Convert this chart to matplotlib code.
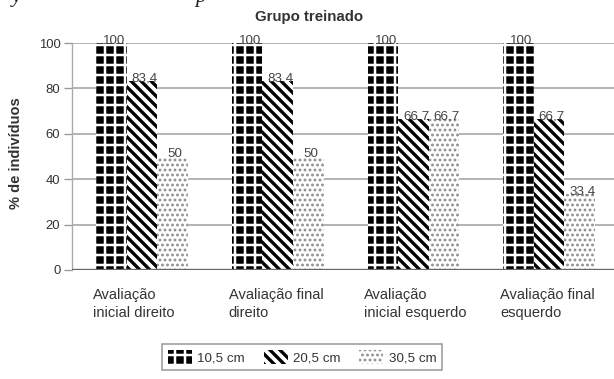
import matplotlib.pyplot as plt
import numpy as np

plt.rcParams['font.family'] = ['Liberation Sans', 'DejaVu Sans']

grupos = ['Avaliação\ninicial direito', 'Avaliação final\ndireito',
          'Avaliação\ninicial esquerdo', 'Avaliação final\nesquerdo']
distancias = ['10,5 cm', '20,5 cm', '30,5 cm']
v_10 = [100, 100, 100, 100]
v_20 = [83.4, 83.4, 66.7, 66.7]
v_30 = [50, 50, 66.7, 33.4]
yticks = [0, 20, 40, 60, 80, 100]

DPI = 120
fig = plt.figure(figsize=(614 / DPI, 379 / DPI), dpi=DPI)
ax = fig.add_axes([72 / 614, 1 - 270 / 379, 542 / 614, 227 / 379])

x = np.arange(len(grupos))
w = 0.225
cinza = '#333333'
barra_inv = chr(92)  # backslash

estilos = [
    dict(facecolor='black', edgecolor='white', hatch='++', hlw=1.5),
    dict(facecolor='white', edgecolor='black', hatch=barra_inv * 4, hlw=2.0),
    dict(facecolor='white', edgecolor='#8a8a8a', hatch='....', hlw=1.1),
]

for k, (vals, nome, st) in enumerate(zip([v_10, v_20, v_30], distancias, estilos)):
    bars = ax.bar(x + (k - 1) * w, vals, w, facecolor=st['facecolor'],
                  edgecolor=st['edgecolor'], hatch=st['hatch'], linewidth=0,
                  label=nome, zorder=3)
    for b in bars:
        if hasattr(b, 'set_hatch_linewidth'):
            b.set_hatch_linewidth(st['hlw'])
    for b, v in zip(bars, vals):
        txt = ('%g' % v).replace('.', ',')
        ax.text(b.get_x() + b.get_width() / 2 + 0.02, v + 1.0, txt,
                ha='center', va='center', fontsize=8, color='#444444',
                zorder=5, clip_on=False)

ax.set_xlim(-0.516, 3.478)
ax.set_ylim(0, 100)
ax.set_yticks(yticks)
ax.set_yticklabels([str(t) for t in yticks], fontsize=7.8, color=cinza)
ax.tick_params(axis='y', length=5, width=0.8, color='#999999', pad=2)
ax.set_xticks([])
ax.grid(axis='y', color='#b5b5b5', linewidth=1.2, zorder=0)
ax.axhline(0, color='#666666', linewidth=1.4, zorder=4)
for s in ['top', 'right', 'bottom']:
    ax.spines[s].set_visible(False)
ax.spines['left'].set_color('#aaaaaa')
ax.spines['left'].set_linewidth(0.8)

for i, g in enumerate(grupos):
    ax.text(i - 1.5 * w - 0.025, -8, g, ha='left', va='top', fontsize=8.8,
            color=cinza, linespacing=1.35, clip_on=False)

fig.text(16 / 614, 1 - 153 / 379, '% de indivíduos', rotation=90,
         ha='center', va='center', fontsize=8.8, fontweight='bold', color=cinza)
fig.text(0.503, 1 - 17 / 379, 'Grupo treinado', ha='center', va='center',
         fontsize=9, fontweight='bold', color=cinza)

# restos da legenda da figura anterior no topo
fig.text(0.02, 1 - 2 / 379, 'y', fontsize=13, style='italic',
         family='Liberation Serif', va='baseline', color='#222222')
fig.text(0.318, 1 - 2 / 379, 'p', fontsize=13, style='italic',
         family='Liberation Serif', va='baseline', color='#222222')

leg = fig.legend(loc='center', bbox_to_anchor=(0.492, 1 - 357 / 379), ncol=3,
                 fontsize=8, frameon=True, fancybox=False, edgecolor='#888888',
                 handlelength=1.8, handleheight=1.2, columnspacing=1.4,
                 handletextpad=0.4, borderpad=0.45)
leg.get_frame().set_linewidth(1.0)
for t in leg.get_texts():
    t.set_color(cinza)
for h, st in zip(leg.legend_handles, estilos):
    if hasattr(h, 'set_hatch_linewidth'):
        h.set_hatch_linewidth(st['hlw'])

fig.savefig('out.png', dpi=DPI)
